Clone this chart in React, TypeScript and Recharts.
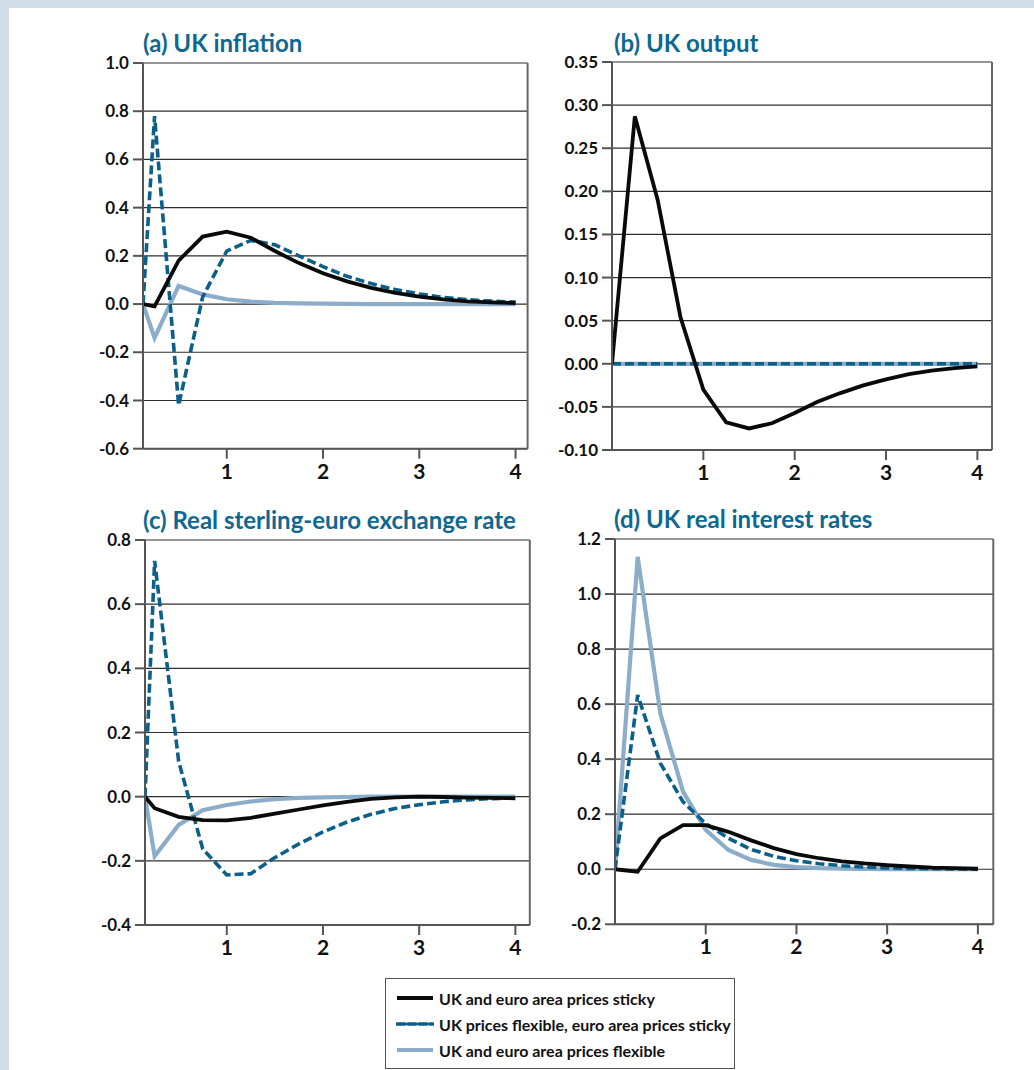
import { LineChart, Line, XAxis, YAxis, CartesianGrid, ReferenceLine } from "recharts"

// series labels (legend order)
const SERIES = [
  { key: "sticky", name: "UK and euro area prices sticky", color: "#0a0a0a", dash: undefined, width: 3.8 },
  { key: "ukFlex", name: "UK prices flexible, euro area prices sticky", color: "#0b5f89", dash: "9 4", width: 3.6 },
  { key: "flex", name: "UK and euro area prices flexible", color: "#8cadc9", dash: undefined, width: 4.2 },
]

// years (quarterly); panels a and c start just after zero on the axis
const yearsA = [0.13, 0.25, 0.5, 0.75, 1, 1.25, 1.5, 1.75, 2, 2.25, 2.5, 2.75, 3, 3.25, 3.5, 3.75, 4]
const yearsC = [0.15, 0.25, 0.5, 0.75, 1, 1.25, 1.5, 1.75, 2, 2.25, 2.5, 2.75, 3, 3.25, 3.5, 3.75, 4]
const yearsBD = [0, 0.25, 0.5, 0.75, 1, 1.25, 1.5, 1.75, 2, 2.25, 2.5, 2.75, 3, 3.25, 3.5, 3.75, 4]
const xTicks = [1, 2, 3, 4]

// (a) UK inflation
const inflSticky = [0, -0.01, 0.18, 0.28, 0.3, 0.275, 0.22, 0.17, 0.128, 0.094, 0.067, 0.046, 0.031, 0.019, 0.011, 0.007, 0.004]
const inflUkFlex = [0, 0.78, -0.42, 0.03, 0.22, 0.264, 0.246, 0.2, 0.155, 0.115, 0.085, 0.06, 0.042, 0.028, 0.018, 0.012, 0.008]
const inflFlex = [0, -0.14, 0.075, 0.04, 0.02, 0.01, 0.005, 0.003, 0.002, 0.001, 0, 0, 0, 0, 0, 0, 0]
const inflTicks = [-0.6, -0.4, -0.2, 0, 0.2, 0.4, 0.6, 0.8, 1.0]

// (b) UK output
const outSticky = [0, 0.287, 0.19, 0.054, -0.03, -0.068, -0.075, -0.069, -0.057, -0.044, -0.034, -0.025, -0.018, -0.012, -0.008, -0.005, -0.003]
const outUkFlex = [0, 0, 0, 0, 0, 0, 0, 0, 0, 0, 0, 0, 0, 0, 0, 0, 0]
const outFlex = [0, 0, 0, 0, 0, 0, 0, 0, 0, 0, 0, 0, 0, 0, 0, 0, 0]
const outTicks = [-0.1, -0.05, 0, 0.05, 0.1, 0.15, 0.2, 0.25, 0.3, 0.35]

// (c) Real sterling-euro exchange rate
const fxSticky = [0, -0.036, -0.063, -0.073, -0.074, -0.066, -0.053, -0.04, -0.027, -0.016, -0.007, -0.002, 0, -0.001, -0.003, -0.004, -0.005]
const fxUkFlex = [0, 0.735, 0.11, -0.163, -0.244, -0.24, -0.19, -0.147, -0.11, -0.079, -0.055, -0.037, -0.025, -0.016, -0.01, -0.006, -0.004]
const fxFlex = [0, -0.185, -0.088, -0.042, -0.026, -0.015, -0.008, -0.004, -0.002, -0.001, 0, 0, 0, 0, 0, 0, 0]
const fxTicks = [-0.4, -0.2, 0, 0.2, 0.4, 0.6, 0.8]

// (d) UK real interest rates
const rateSticky = [0, -0.009, 0.112, 0.16, 0.16, 0.136, 0.105, 0.077, 0.055, 0.04, 0.029, 0.021, 0.015, 0.01, 0.006, 0.004, 0.002]
const rateUkFlex = [0, 0.633, 0.385, 0.245, 0.166, 0.113, 0.072, 0.047, 0.031, 0.02, 0.013, 0.008, 0.005, 0.003, 0.002, 0.001, 0]
const rateFlex = [0, 1.135, 0.566, 0.282, 0.143, 0.07, 0.034, 0.016, 0.008, 0.004, 0.002, 0.001, 0, 0, 0, 0, 0]
const rateTicks = [-0.2, 0, 0.2, 0.4, 0.6, 0.8, 1.0, 1.2]

const FONT = "Lato, 'Open Sans', sans-serif"
const TITLE_COLOR = "#0e6891"

function rows(xs: number[], a: number[], b: number[], c: number[]) {
  return xs.map((t, i) => ({ t, sticky: a[i], ukFlex: b[i], flex: c[i] }))
}

interface PanelProps {
  title: string
  titleLeft: number
  titleTop: number
  box: { left: number; right: number; top: number; bottom: number }
  xDomain: [number, number]
  yTicks: number[]
  digits: number
  data: Array<Record<string, number>>
}

function Panel({ title, titleLeft, titleTop, box, xDomain, yTicks, digits, data }: PanelProps) {
  const axisW = 70
  const padTop = 10
  const padRight = 10
  const axisH = 40
  const yDomain: [number, number] = [yTicks[0], yTicks[yTicks.length - 1]]
  return (
    <>
      <div
        style={{
          position: "absolute",
          left: titleLeft,
          top: titleTop,
          fontSize: 24,
          lineHeight: "28px",
          fontWeight: 700,
          color: TITLE_COLOR,
          whiteSpace: "nowrap",
        }}
      >
        {title}
      </div>
      <div style={{ position: "absolute", left: box.left - axisW, top: box.top - padTop }}>
        <LineChart
          width={box.right - box.left + axisW + padRight}
          height={box.bottom - box.top + padTop + axisH}
          data={data}
          margin={{ top: padTop, right: padRight, bottom: 0, left: 0 }}
        >
          <CartesianGrid vertical={false} stroke="#2e2e2e" strokeWidth={1.2} />
          <XAxis
            type="number"
            dataKey="t"
            domain={xDomain}
            ticks={xTicks}
            allowDataOverflow
            height={axisH}
            tickSize={10}
            tickMargin={5}
            stroke="#555"
            strokeWidth={2}
            tick={{ fontSize: 21, fontWeight: 700, fill: "#111", fontFamily: FONT }}
          />
          <YAxis
            type="number"
            domain={yDomain}
            ticks={yTicks}
            allowDataOverflow
            width={axisW}
            tickSize={10}
            tickMargin={4}
            stroke="#555"
            strokeWidth={2}
            tickFormatter={(v: number) => v.toFixed(digits)}
            tick={{ fontSize: 17, fontWeight: 700, fill: "#111", fontFamily: FONT }}
          />
          <ReferenceLine x={xDomain[1]} stroke="#666" strokeWidth={2} />
          {[SERIES[2], SERIES[1], SERIES[0]].map((s) => (
            <Line
              key={s.key}
              type="linear"
              dataKey={s.key}
              name={s.name}
              stroke={s.color}
              strokeWidth={s.width}
              strokeDasharray={s.dash}
              dot={false}
              activeDot={false}
              isAnimationActive={false}
            />
          ))}
        </LineChart>
      </div>
    </>
  )
}

function LegendBox() {
  const centers = [998, 1024, 1050]
  return (
    <div
      style={{
        position: "absolute",
        left: 385,
        top: 978,
        width: 350,
        height: 91,
        border: "1.5px solid #555",
        boxSizing: "border-box",
      }}
    >
      {SERIES.map((s, i) => (
        <div
          key={s.key}
          style={{
            position: "absolute",
            left: 10,
            top: centers[i] - 978 - 11,
            height: 20,
            display: "flex",
            alignItems: "center",
            whiteSpace: "nowrap",
          }}
        >
          <svg width={38} height={8} style={{ display: "block" }}>
            <line x1={1} y1={4} x2={37} y2={4} stroke={s.color} strokeWidth={s.width} strokeDasharray={s.dash ? "8 3" : undefined} strokeLinecap={s.dash ? "round" : "butt"} />
          </svg>
          <span style={{ marginLeft: 5, fontSize: 16, fontWeight: 700, color: "#111" }}>{s.name}</span>
        </div>
      ))}
    </div>
  )
}

export default function App() {
  return (
    <div
      style={{
        position: "absolute",
        left: 0,
        top: 0,
        width: 1034,
        height: 1070,
        background: "#fff",
        fontFamily: FONT,
        overflow: "hidden",
      }}
    >
      <div style={{ position: "absolute", left: 0, top: 0, width: 1034, height: 8, background: "#d0dde7" }} />
      <div style={{ position: "absolute", left: 0, top: 0, width: 9, height: 1070, background: "#d0dde7" }} />

      <Panel
        title="(a) UK inflation"
        titleLeft={143}
        titleTop={29}
        box={{ left: 142.7, right: 527.3, top: 63.3, bottom: 449 }}
        xDomain={[0.13, 4.125]}
        yTicks={inflTicks}
        digits={1}
        data={rows(yearsA, inflSticky, inflUkFlex, inflFlex)}
      />
      <Panel
        title="(b) UK output"
        titleLeft={614}
        titleTop={29}
        box={{ left: 612.3, right: 992.3, top: 62.3, bottom: 450.3 }}
        xDomain={[0, 4.16]}
        yTicks={outTicks}
        digits={2}
        data={rows(yearsBD, outSticky, outUkFlex, outFlex)}
      />
      <Panel
        title="(c) Real sterling-euro exchange rate"
        titleLeft={143}
        titleTop={506}
        box={{ left: 144.7, right: 529.5, top: 540, bottom: 925 }}
        xDomain={[0.15, 4.15]}
        yTicks={fxTicks}
        digits={1}
        data={rows(yearsC, fxSticky, fxUkFlex, fxFlex)}
      />
      <Panel
        title="(d) UK real interest rates"
        titleLeft={614}
        titleTop={505}
        box={{ left: 614.7, right: 993, top: 539, bottom: 924.3 }}
        xDomain={[0, 4.17]}
        yTicks={rateTicks}
        digits={1}
        data={rows(yearsBD, rateSticky, rateUkFlex, rateFlex)}
      />

      <LegendBox />
    </div>
  )
}
